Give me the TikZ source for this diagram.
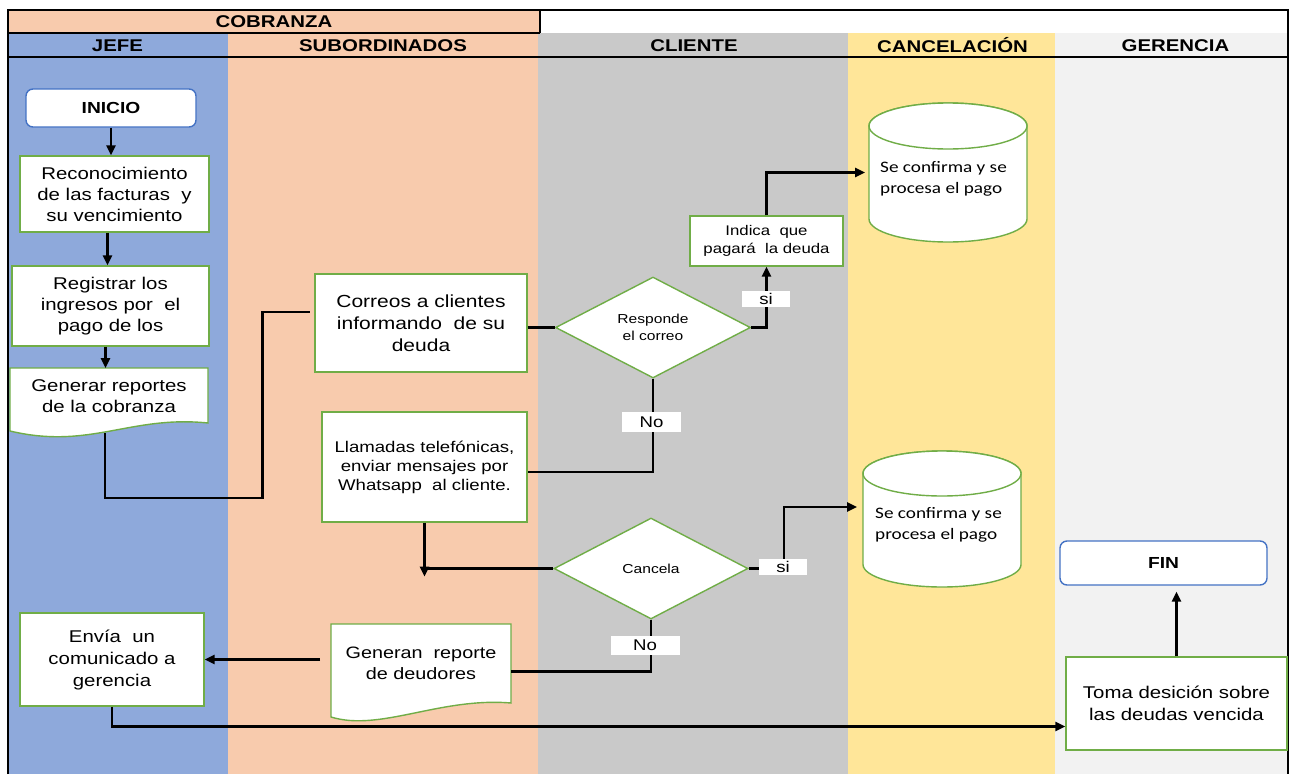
\documentclass[tikz,border=0pt]{standalone}
\usepackage{fontspec}
\setmainfont{Liberation Sans}[FakeStretch=1.2]
\newfontfamily\cylfont{Carlito}[FakeStretch=1.2]
\usetikzlibrary{shapes.geometric,arrows.meta,calc}
\pgfdeclarelayer{back}
\pgfdeclarelayer{mid}
\pgfsetlayers{back,mid,main}
\definecolor{cjefe}{HTML}{8EA9DB}
\definecolor{csub}{HTML}{F8CBAD}
\definecolor{ccli}{HTML}{C9C9C9}
\definecolor{ccan}{HTML}{FFE699}
\definecolor{cger}{HTML}{F2F2F2}
\definecolor{boxgreen}{HTML}{70AD47}
\definecolor{termblue}{HTML}{4472C4}
\newcommand\bodyf{\fontsize{17}{21}\selectfont}
\begin{document}
\begin{tikzpicture}[x=1pt,y=-1pt,
  line/.style={draw=black,line width=2.4pt},
  arr/.style={line,-{Triangle[length=10pt,width=9pt]}},
  proc/.style={rectangle,draw=boxgreen,line width=1.4pt,fill=white,align=center,inner sep=0pt,text=black},
  term/.style={rectangle,rounded corners=7pt,draw=termblue,line width=1.4pt,fill=white,align=center,inner sep=0pt,font=\fontsize{16}{19}\selectfont\bfseries},
  dec/.style={diamond,draw=boxgreen,line width=1.4pt,fill=white,align=center,inner sep=0pt,font=\fontsize{13}{17.5}\selectfont},
  area/.style={rectangle,draw=none,inner sep=0pt,outer sep=0pt,align=center},
  lab/.style={rectangle,fill=white,inner sep=0pt,font=\fontsize{15.5}{18}\selectfont},
  hdr/.style={inner sep=0pt,font=\fontsize{17}{20}\selectfont\bfseries},
  docshape/.style={draw=boxgreen,line width=1.4pt,fill=white},
  cyltext/.style={inner sep=0pt,align=left,font=\cylfont\fontsize{16}{20.5}\selectfont},
  frame/.style={draw=black,line width=2pt},
]
\useasboundingbox (0,0) rectangle (1293,774);

% lanes
\begin{pgfonlayer}{back}
\fill[white] (0,0) rectangle (1293,774);
\fill[cjefe] (8,33) rectangle (228,774);
\fill[csub] (228,33) rectangle (538,774);
\fill[ccli] (538,33) rectangle (848,774);
\fill[ccan] (848,33) rectangle (1055,774);
\fill[cger] (1055,33) rectangle (1288,774);
\fill[csub] (8,10) rectangle (540,33);
\end{pgfonlayer}

\draw[frame] (8,774) -- (8,10) -- (1288,10) -- (1288,774);
\draw[frame] (8,33) -- (540,33);
\draw[frame] (540,10) -- (540,33);
\draw[frame] (8,57) -- (1288,57);

% headers
\node[hdr] (tcob) at (274,21.5) {COBRANZA};
\node[hdr] (tjefe) at (117.5,45.5) {JEFE};
\node[hdr] (tsub) at (383,45.5) {SUBORDINADOS};
\node[hdr] (tcli) at (694,45.5) {CLIENTE};
\node[hdr] (tcan) at (952.5,45.5) {CANCELACIÓN};
\node[hdr] (tger) at (1175.5,45.5) {GERENCIA};

% nodes
\node[term,minimum width=170pt,minimum height=38pt] (inicio) at (111,108) {INICIO};
\node[proc,minimum width=189pt,minimum height=76pt,font=\bodyf] (reco) at (114.5,194) {Reconocimiento\\de las facturas~ y\\su vencimiento};
\node[proc,minimum width=197pt,minimum height=80pt,font=\bodyf] (regi) at (110.5,306) {Registrar los\\ingresos por~ el\\pago de los};
\node[area,minimum width=198pt,minimum height=57pt,font=\bodyf] (gene) at (109,396.5) {Generar reportes\\de la cobranza};
\node[proc,minimum width=212pt,minimum height=98pt,font=\fontsize{17.5}{22}\selectfont] (correos) at (421,323) {Correos a clientes\\informando~ de su\\deuda};
\node[proc,minimum width=205pt,minimum height=110pt,font=\fontsize{15.5}{19}\selectfont] (llam) at (424.5,467) {Llamadas telefónicas,\\enviar mensajes por\\Whatsapp~ al cliente.};
\node[dec,minimum width=195pt,minimum height=101pt] (resp) at (653,327.5) {Responde\\el correo};
\node[proc,minimum width=153pt,minimum height=50pt,font=\fontsize{14}{17.5}\selectfont] (indica) at (766.5,241) {Indica~ que\\pagará~ la deuda};
\node[area,minimum width=158pt,minimum height=139pt] (cyl1) at (948,172.5) {};
\node[dec,minimum width=194pt,minimum height=101pt] (canc) at (651,568.5) {Cancela};
\node[area,minimum width=158pt,minimum height=136pt] (cyl2) at (942,519) {};
\node[area,minimum width=180pt,minimum height=79pt,font=\fontsize{16.5}{20.5}\selectfont] (gener) at (421,663.5) {Generan~ reporte\\de deudores};
\node[proc,minimum width=184pt,minimum height=93pt,font=\fontsize{17}{22}\selectfont] (envia) at (112,659.5) {Envía~ un\\comunicado a\\gerencia};
\node[term,minimum width=207pt,minimum height=44pt] (fin) at (1163.5,563) {FIN};
\node[proc,minimum width=221pt,minimum height=93pt,font=\fontsize{17}{21.5}\selectfont] (toma) at (1176.5,703.5) {Toma desición sobre\\las deudas vencida};

% document shapes and cylinders
\begin{pgfonlayer}{mid}
\draw[docshape] (gene.north west) -- (gene.north east) -- ($(gene.south east)+(0,-2)$)
  .. controls ($(gene.south east)+(-78,-10)$) and ($(gene.south west)+(80,25)$) .. ($(gene.south west)+(0,6)$) -- cycle;
\draw[docshape] (gener.north west) -- (gener.north east) -- (gener.south east)
  .. controls ($(gener.south east)+(-71,-6)$) and ($(gener.south west)+(49,29)$) .. ($(gener.south west)+(0,14)$) -- cycle;
\draw[docshape] ($(cyl1.north west)+(0,23)$) -- ($(cyl1.south west)+(0,-23)$)
  arc[start angle=180,end angle=360,x radius=79pt,y radius=23pt]
  -- ($(cyl1.north east)+(0,23)$)
  arc[start angle=0,end angle=180,x radius=79pt,y radius=23pt] -- cycle;
\draw[docshape] ($(cyl1.north)+(0,23)$) ellipse[x radius=79pt,y radius=23pt];
\draw[docshape] ($(cyl2.north west)+(0,22.5)$) -- ($(cyl2.south west)+(0,-22.5)$)
  arc[start angle=180,end angle=360,x radius=79pt,y radius=22.5pt]
  -- ($(cyl2.north east)+(0,22.5)$)
  arc[start angle=0,end angle=180,x radius=79pt,y radius=22.5pt] -- cycle;
\draw[docshape] ($(cyl2.north)+(0,22.5)$) ellipse[x radius=79pt,y radius=22.5pt];
\end{pgfonlayer}
\node[cyltext,anchor=west] (cyl1t) at (880,179) {Se confirma y se\\procesa el pago};
\node[cyltext,anchor=west] (cyl2t) at (875,525) {Se confirma y se\\procesa el pago};

% connectors
\draw[arr] (inicio.south) -- (inicio.south |- reco.north);
\draw[arr] ([xshift=-7pt]reco.south) -- ([xshift=-7pt]reco.south |- regi.north);
\draw[arr] ([xshift=-5pt]regi.south) -- ([xshift=-5pt]regi.south |- gene.north);
\draw[line] ([xshift=-4pt,yshift=-8pt]gene.south) -- ++(0,65) -| ([xshift=-52pt,yshift=11pt]correos.west) -- ([xshift=-4pt,yshift=11pt]correos.west);
\draw[line] (correos.east |- resp.west) -- (resp.west);
\draw[arr] (resp.east) -| (indica.south);
\draw[arr,shorten >=4pt] (indica.north) |- (cyl1.west);
\draw[line] (resp.south) |- ([yshift=-5pt]llam.east);
\draw[arr] (llam.south) -- ([yshift=-8pt]llam.south |- canc.west);
\draw[line] (canc.west) -- (llam.south |- canc.west);
\draw[arr,shorten >=6pt] (canc.east) -- ++(35,0) |- ([yshift=12pt]cyl2.west);
\draw[line] (canc.south) |- ([yshift=-8pt]gener.east);
\draw[arr,shorten <=11pt] (gener.west |- envia.east) -- (envia.east);
\draw[arr] (envia.south) |- ([yshift=-23pt]toma.west);
\draw[arr,shorten >=6pt] (toma.north) -- (toma.north |- fin.south);

% labels
\node[lab,minimum width=48pt,minimum height=16pt] (si1) at (766,299) {si};
\node[lab,minimum width=59pt,minimum height=20pt] (no1) at (651.5,422) {No};
\node[lab,minimum width=48pt,minimum height=16pt] (si2) at (783,567) {si};
\node[lab,minimum width=69pt,minimum height=19pt] (no2) at (645,645) {No};
\end{tikzpicture}
\end{document}
